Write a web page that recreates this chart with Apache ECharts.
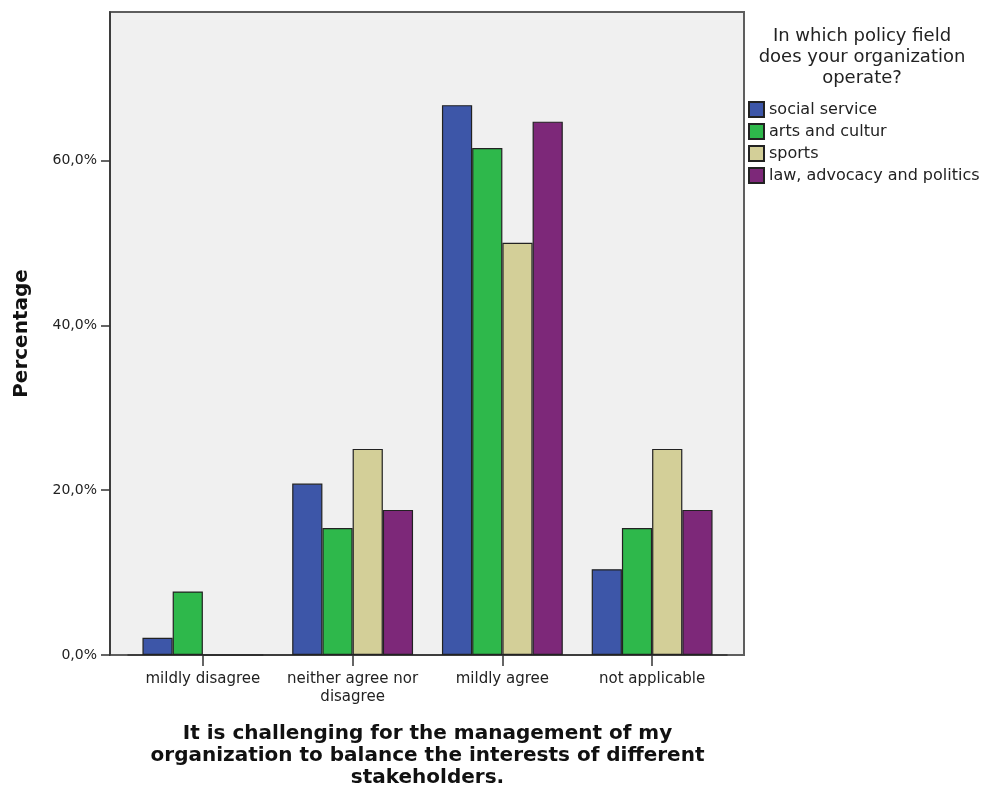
<!DOCTYPE html>
<html>
<head>
<meta charset="utf-8">
<script src="https://cdn.jsdelivr.net/npm/echarts@6/dist/echarts.min.js"></script>
<style>
  html, body { margin: 0; padding: 0; background: #ffffff; overflow: hidden; }
  #chart { width: 981px; height: 792px; }
</style>
</head>
<body>
<div id="chart"></div>
<script>
// Response categories on the x axis
const categories = ['mildly disagree', 'neither agree nor\ndisagree', 'mildly agree', 'not applicable'];

// Share of respondents (%) per policy field
const socialService = [2.1, 20.8, 66.7, 10.4];
const artsAndCultur = [7.7, 15.4, 61.5, 15.4];
const sports = [0, 25.0, 50.0, 25.0];
const lawAdvocacy = [0, 17.6, 64.7, 17.6];

const seriesNames = ['social service', 'arts and cultur', 'sports', 'law, advocacy and politics'];
const seriesColors = ['#3d56a8', '#2eb84b', '#d3cf98', '#7d2879'];

// Y axis tick values
const yTicks = [0, 20, 40, 60];

const FONT = 'DejaVu Sans';

const chart = echarts.init(document.getElementById('chart'), null, { renderer: 'canvas', width: 981, height: 792 });

const seriesData = [socialService, artsAndCultur, sports, lawAdvocacy];

const option = {
  backgroundColor: '#ffffff',
  animation: false,
  textStyle: { fontFamily: FONT },
  grid: { left: 128, top: 12, width: 599, height: 643, outerBoundsMode: 'none', containLabel: false },
  graphic: [
    {
      // framed plot panel
      type: 'rect',
      z: -1,
      shape: { x: 110, y: 12, width: 634, height: 643 },
      style: { fill: '#f0f0f0', stroke: '#5e5e5e', lineWidth: 2 }
    },
    {
      type: 'text',
      style: {
        x: 862,
        y: 26,
        text: 'In which policy field\ndoes your organization\noperate?',
        fontFamily: FONT,
        fontSize: 18,
        lineHeight: 21,
        fill: '#222222',
        align: 'center',
        verticalAlign: 'top'
      }
    }
  ],
  legend: {
    orient: 'vertical',
    left: 748,
    top: 101,
    padding: 0,
    itemWidth: 15,
    itemHeight: 15,
    itemGap: 5,
    icon: 'rect',
    data: seriesNames,
    textStyle: { fontFamily: FONT, fontSize: 16, lineHeight: 15, color: '#222222' }
  },
  xAxis: {
    type: 'category',
    data: categories,
    axisLine: { show: true, lineStyle: { color: '#333333', width: 1.5 } },
    axisTick: { show: true, alignWithLabel: true, length: 11, lineStyle: { color: '#333333', width: 1.5 } },
    axisLabel: { fontFamily: FONT, fontSize: 15, color: '#222222', margin: 15, lineHeight: 18, interval: 0 },
    name: 'It is challenging for the management of my\norganization to balance the interests of different\nstakeholders.',
    nameLocation: 'middle',
    nameGap: 68,
    nameTextStyle: { fontFamily: FONT, fontSize: 20, fontWeight: 'bold', color: '#111111', lineHeight: 22 }
  },
  yAxis: {
    type: 'value',
    min: 0,
    max: 78,
    offset: 18,
    splitLine: { show: false },
    axisLine: { show: true, lineStyle: { color: '#333333', width: 1.5 } },
    axisTick: { show: true, length: 9, customValues: yTicks, lineStyle: { color: '#333333', width: 1.5 } },
    axisLabel: {
      customValues: yTicks,
      fontFamily: FONT,
      fontSize: 14,
      color: '#222222',
      margin: 13,
      formatter: v => v.toFixed(1).replace('.', ',') + '%'
    },
    name: 'Percentage',
    nameLocation: 'middle',
    nameGap: 78,
    nameTextStyle: { fontFamily: FONT, fontSize: 20, fontWeight: 'bold', color: '#111111' }
  },
  series: seriesNames.map((name, i) => ({
    name: name,
    type: 'bar',
    data: seriesData[i],
    barGap: '0%',
    barCategoryGap: '19.3%',
    itemStyle: { color: seriesColors[i], borderColor: '#222222', borderWidth: 1.2 }
  }))
};

chart.setOption(option);
</script>
</body>
</html>
